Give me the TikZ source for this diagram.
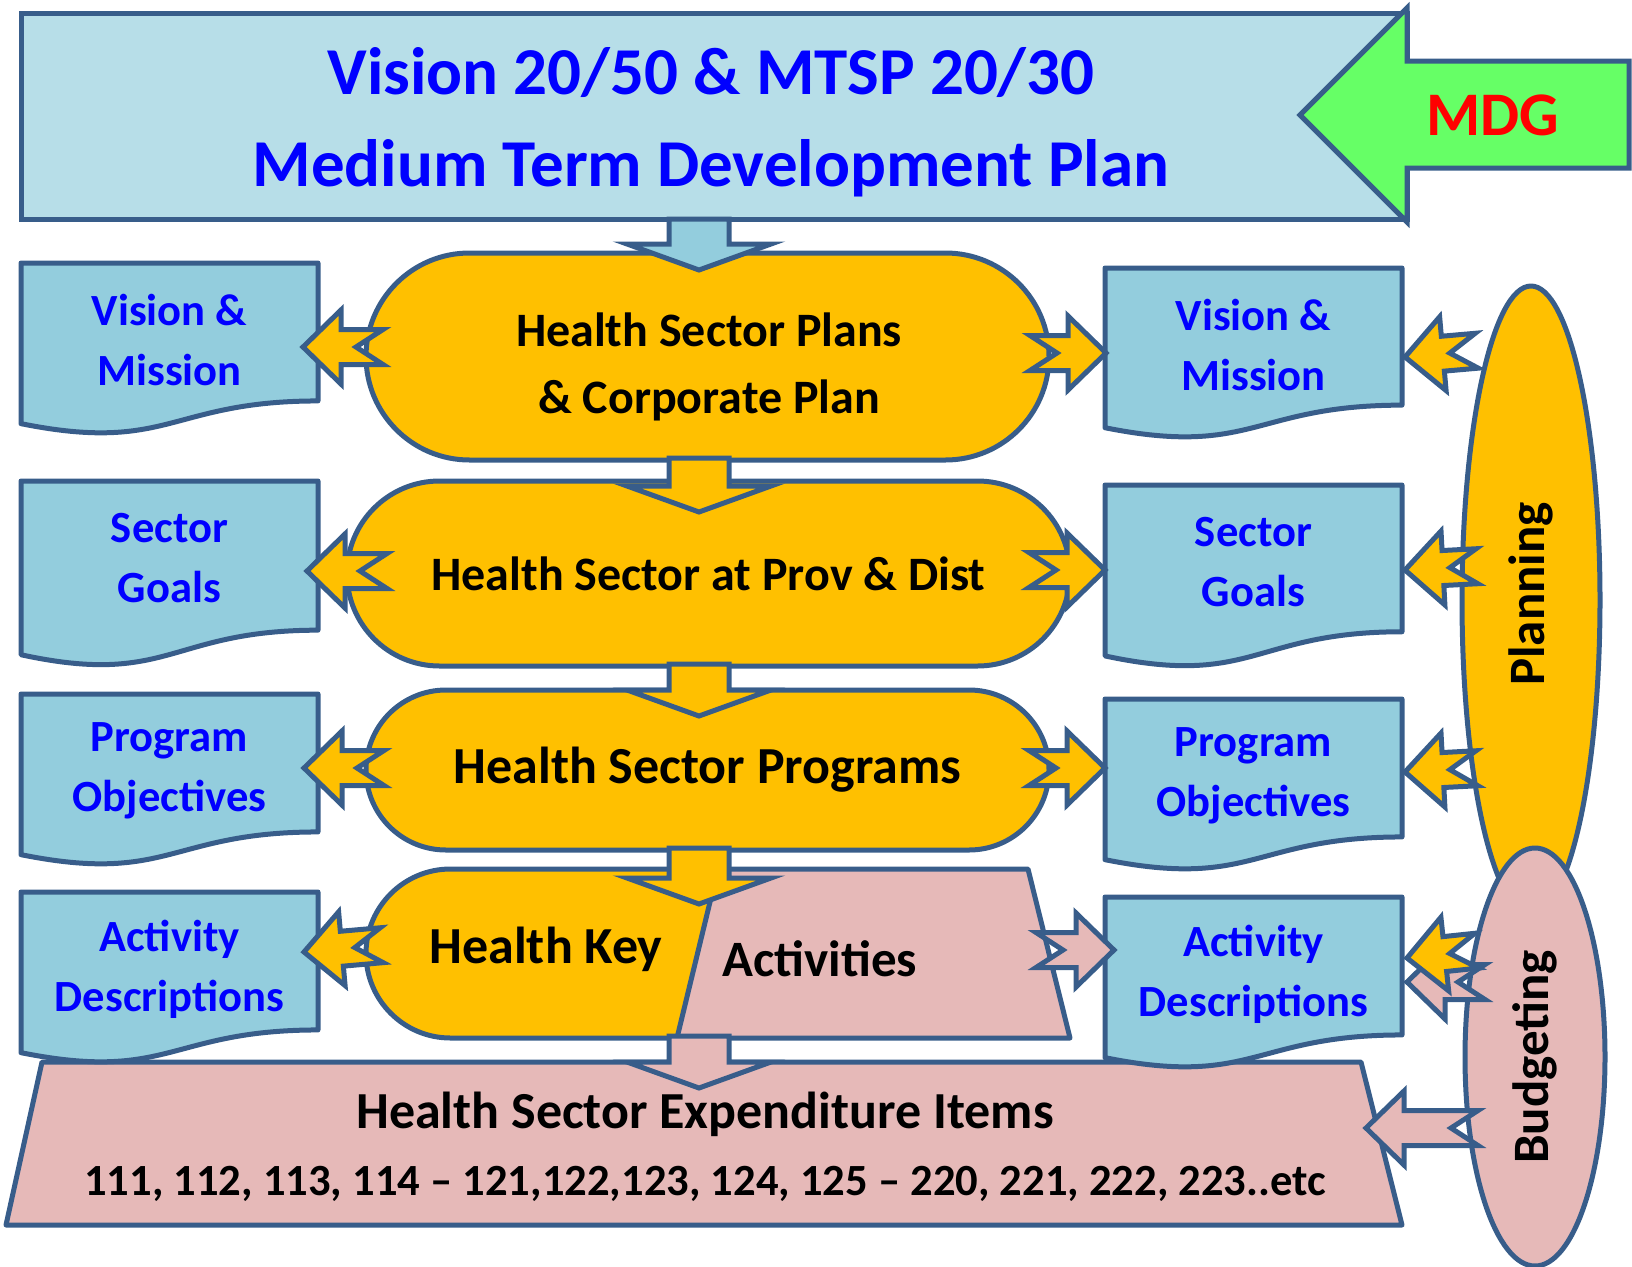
\documentclass[tikz,border=0pt]{standalone}
\usepackage{fontspec}
\setmainfont{Carlito}
\usepackage{tikz}
\usetikzlibrary{shapes}
\definecolor{edgeblue}{RGB}{56,93,138}
\definecolor{bannerblue}{RGB}{183,222,232}
\definecolor{docblue}{RGB}{147,205,221}
\definecolor{keyorange}{RGB}{255,192,0}
\definecolor{costpink}{RGB}{230,185,184}
\definecolor{mdggreen}{RGB}{102,255,102}
\definecolor{textblue}{RGB}{0,0,255}

\tikzset{
  edge/.style={draw=edgeblue, line width=5pt, line join=round},
  stadium/.style={edge, fill=keyorange, rounded rectangle, inner sep=0pt, align=center,
    font=\bfseries\fontsize{48}{67}\selectfont},
  phase/.style={edge, ellipse, inner sep=0pt, font=\bfseries\fontsize{51}{51}\selectfont},
  doctext/.style={text=textblue, align=center, font=\bfseries\fontsize{44.6}{60}\selectfont},
  midtext/.style={align=center, font=\bfseries\fontsize{48}{67}\selectfont},
  codetext/.style={font=\bfseries\fontsize{44.6}{44.6}\selectfont}
}

% 缺口箭头：填充，尖端，角度，长度
\newcommand{\notchedarrow}[4]{%
  \begin{scope}[shift={(#2)}, rotate=#3]
    \draw[edge, line join=miter, fill=#1] (0,0) -- (38,37) -- (38,17.5) -- (#4,17.5)
      -- ({#4-27},0) -- (#4,-17.5) -- (38,-17.5) -- (38,-37) -- cycle;
  \end{scope}}

% 向下的箭头：填充，尖端，长度
\newcommand{\blockarrow}[3]{%
  \begin{scope}[shift={(#2)}, rotate=90]
    \draw[edge, line join=miter, fill=#1] (0,0) -- (26,72) -- (26,30) -- (#3,30)
      -- (#3,-30) -- (26,-30) -- (26,-72) -- cycle;
  \end{scope}}

% 文档框：名字，x，y，高度，文字
\newcommand{\docbox}[5]{%
  \draw[edge, fill=docblue] (#2,#3) -- ({#2+297},#3) -- ({#2+297},{#3+0.802*#4})
    .. controls ({#2+148.5},{#3+0.802*#4}) and ({#2+148.5},{#3+1.1075*#4}) .. (#2,{#3+0.934*#4})
    -- cycle;
  \node[doctext] (#1) at ({#2+148.5},{#3+77}) {#5};}

\begin{document}
\begin{tikzpicture}[x=1pt, y=-1pt]
  \clip (0,0) rectangle (1632,1266);

  % 顶部横幅
  \draw[edge, line join=miter, fill=bannerblue] (21,13) rectangle (1407,219);
  \node[align=center, text=textblue, font=\bfseries\fontsize{67}{92}\selectfont] (mtdp) at (711,122)
    {Vision 20/50 \& MTSP 20/30\\Medium Term Development Plan};

  % MDG
  \draw[edge, line join=miter, fill=mdggreen] (1300,115) -- (1407,8) -- (1407,61) -- (1629,61)
    -- (1629,168) -- (1407,168) -- (1407,222) -- cycle;
  \node[text=red, font=\bfseries\fontsize{62}{62}\selectfont] (mdg) at (1493,115) {MDG};

  % 中间的层次
  \node[stadium, minimum width=683pt, minimum height=207pt] (plans) at (707.5,356.5) {};
  \node[midtext] (planstext) at (709,367) {Health Sector Plans\\\& Corporate Plan};
  \node[stadium, minimum width=723pt, minimum height=185pt] (provdist) at (708.5,573.5)
    {Health Sector at Prov \& Dist};
  \node[stadium, minimum width=683pt, minimum height=160pt, font=\bfseries\fontsize{52}{52}\selectfont]
    (programs) at (707.5,770) {Health Sector Programs};
  \node[stadium, rounded rectangle right arc=none, minimum width=360pt, minimum height=169pt]
    (key) at (546,953.5) {};
  \node[midtext, font=\bfseries\fontsize{52}{52}\selectfont] (keytext) at (546,949) {Health Key};

  \draw[edge, fill=costpink] (718,869) -- (1028,869) -- (1070,1038) -- (677,1038) -- cycle;
  \node[midtext, font=\bfseries\fontsize{51}{51}\selectfont] (activities) at (820,959) {Activities};

  % 支出项目
  \draw[edge, fill=costpink] (42,1062) -- (1361,1062) -- (1402,1225) -- (6,1225) -- cycle;
  \node[midtext, font=\bfseries\fontsize{52}{52}\selectfont] (items) at (705,1114)
    {Health Sector Expenditure Items};
  \node[codetext] (codes) at (705,1184)
    {111, 112, 113, 114 -- 121,122,123, 124, 125 -- 220, 221, 222, 223..etc};

  % 左边
  \docbox{lvision}{21}{263}{172}{Vision \&\\Mission}
  \docbox{lgoals}{21}{481}{186}{Sector\\Goals}
  \docbox{lobj}{21}{694}{172}{Program\\Objectives}
  \docbox{lact}{21}{892}{172}{Activity\\Descriptions}

  % 右边
  \docbox{rvision}{1105}{268}{171}{Vision \&\\Mission}
  \docbox{rgoals}{1105}{485}{183}{Sector\\Goals}
  \docbox{robj}{1105}{699}{172}{Program\\Objectives}
  \docbox{ract}{1105}{897}{172}{Activity\\Descriptions}

  % 椭圆
  \node[phase, fill=keyorange, rotate=90, minimum width=628pt, minimum height=138pt]
    (planning) at (1531,600) {};
  \node[rotate=90, font=\bfseries\fontsize{51}{51}\selectfont] (planningtext) at (1531,594) {Planning};
  \node[phase, fill=costpink, rotate=90, minimum width=418pt, minimum height=140pt]
    (budgeting) at (1535,1057) {Budgeting};

  % 向下
  \blockarrow{docblue}{699,270}{51}
  \blockarrow{keyorange}{699,512}{54}
  \blockarrow{keyorange}{699,716}{52}
  \blockarrow{keyorange}{699,904}{56}
  \blockarrow{costpink}{699,1088}{52}

  % 向左
  \notchedarrow{keyorange}{303,347}{0}{80}
  \notchedarrow{keyorange}{307,571}{0}{80}
  \notchedarrow{keyorange}{304,768}{0}{80}
  \notchedarrow{keyorange}{304,952}{5}{78}

  % 向右
  \notchedarrow{keyorange}{1106,353}{180}{76}
  \notchedarrow{keyorange}{1105,570}{180}{76}
  \notchedarrow{keyorange}{1105,768}{180}{76}
  \notchedarrow{costpink}{1114,950}{180}{78}

  % 从椭圆来
  \notchedarrow{keyorange}{1405,357}{5}{72}
  \notchedarrow{keyorange}{1405,570}{3}{72}
  \notchedarrow{keyorange}{1405,772}{3}{72}
  \notchedarrow{costpink}{1407,982}{0}{78}
  \notchedarrow{keyorange}{1407,958}{6}{70}
  \notchedarrow{costpink}{1366,1128}{0}{112}
\end{tikzpicture}
\end{document}
